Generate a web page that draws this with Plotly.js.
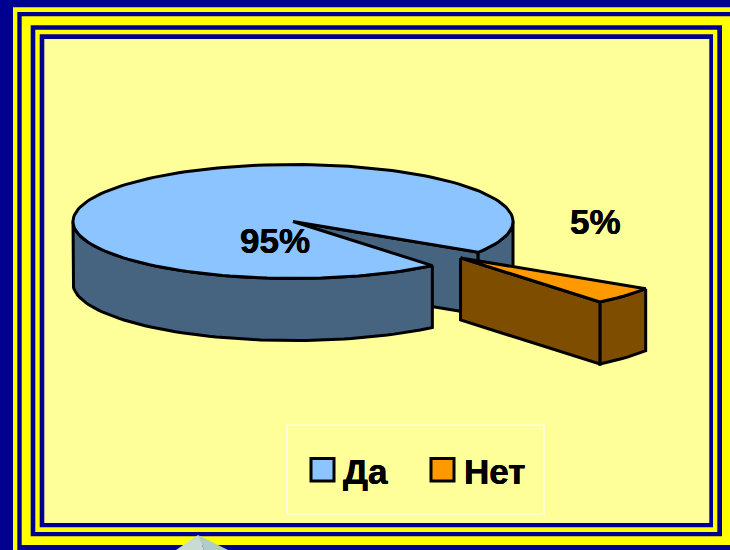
<!DOCTYPE html>
<html>
<head>
<meta charset="utf-8">
<script src="https://cdn.plot.ly/plotly-3.0.1.min.js"></script>
<style>html,body{margin:0;padding:0;background:#000090;overflow:hidden}</style>
</head>
<body>
<div id="chart" style="width:730px;height:550px"></div>
<script>
const categories = ['Да', 'Нет'];
const values = [95, 5];
const topColors = ['#8CC4FF', '#FF9900'];
const sideColors = ['#46637F', '#7F4D00'];

// Projection of the tilted pie onto the page
const cx = 293, cy = 221.5, rx = 220, ry = 57, depth = 62;
const firstAngleDeg = 50.7;   // where "Да" starts, clockwise on screen from the right
const explodeX = 1.02, explodeY = 0.96;

const total = values.reduce((a, b) => a + b, 0);
const sweep = values.map(v => v / total * 360);
const rad = d => d * Math.PI / 180;
const startA = firstAngleDeg, endA = firstAngleDeg + sweep[0];
const netStart = endA, netEnd = endA + sweep[1];

function pt(a, ox, oy, dz) {
  return [ox + rx * Math.cos(rad(a)), oy + ry * Math.sin(rad(a)) + (dz || 0)];
}
function arc(a0, a1, ox, oy, dz) {
  const n = Math.max(2, Math.ceil(Math.abs(a1 - a0) / 2));
  const out = [];
  for (let i = 0; i <= n; i++) out.push(pt(a0 + (a1 - a0) * i / n, ox, oy, dz));
  return out;
}
function poly(points, fill) {
  const closed = points.concat([points[0]]);
  return {
    type: 'scatter', mode: 'lines', x: closed.map(p => p[0]), y: closed.map(p => p[1]),
    fill: 'toself', fillcolor: fill, showlegend: false, hoverinfo: 'skip',
    line: {color: '#000000', width: 3, shape: 'linear'}
  };
}

const traces = [];
// "Да": inner face at the far cut, back-right wall, front wall, then top
traces.push(poly([[cx, cy], pt(endA, cx, cy), pt(endA, cx, cy, depth), [cx, cy + depth]], sideColors[0]));
traces.push(poly(arc(360, endA, cx, cy).concat(arc(endA, 360, cx, cy, depth)), sideColors[0]));
traces.push(poly(arc(startA, 180, cx, cy).concat(arc(180, startA, cx, cy, depth)), sideColors[0]));
traces.push(poly([[cx, cy]].concat(arc(startA, endA, cx, cy)), topColors[0]));

// "Нет": pulled out along its middle angle
const mid = (netStart + netEnd) / 2;
const ox = cx + explodeX * rx * Math.cos(rad(mid));
const oy = cy + explodeY * ry * Math.sin(rad(mid));
traces.push(poly(arc(netStart, netEnd, ox, oy).concat(arc(netEnd, netStart, ox, oy, depth)), sideColors[1]));
traces.push(poly([[ox, oy], pt(netEnd, ox, oy), pt(netEnd, ox, oy, depth), [ox, oy + depth]], sideColors[1]));
traces.push(poly([[ox, oy]].concat(arc(netStart, netEnd, ox, oy)), topColors[1]));

const rect = (x0, y0, x1, y1, fill, line, w) => ({
  type: 'rect', xref: 'x', yref: 'y', x0, y0, x1, y1, layer: 'below',
  fillcolor: fill, line: {color: line || fill, width: w === undefined ? 0 : w}
});
const NAVY = '#000090', YEL = '#FFFF00', PALE = '#FFFF99';
const shapes = [
  rect(0, 0, 730, 550, NAVY),
  rect(13, 7.3, 740, 560, YEL),
  rect(17.3, 12, 740, 560, NAVY),
  rect(21.7, 16.3, 740, 545, YEL),
  rect(30.7, 25.3, 722, 536.3, NAVY),
  rect(35.3, 29.7, 717.3, 532, YEL),
  rect(39.7, 34.3, 713, 527.3, NAVY),
  rect(44.3, 39, 709.3, 523, PALE),
  {type: 'path', xref: 'x', yref: 'y', layer: 'below', path: 'M 176 550 L 198 535 L 204 550 Z', fillcolor: '#C8DCD4', line: {width: 0}},
  {type: 'path', xref: 'x', yref: 'y', layer: 'below', path: 'M 198 535 L 228 550 L 204 550 Z', fillcolor: '#B0CCC8', line: {width: 0}},
  rect(287, 425, 544, 514, 'rgba(0,0,0,0)', '#FFFFFF', 1.2),
  rect(311, 458.5, 334, 481, topColors[0], '#000000', 3),
  rect(431, 458.5, 454, 481, topColors[1], '#000000', 3)
];

const font = {family: '"Liberation Sans", Arial, sans-serif', size: 35, color: '#000000',
  shadow: '0.3px 0 0 #000, -0.3px 0 0 #000'};
const note = (x, y, text, anchor) => ({
  xref: 'x', yref: 'y', x, y, text: '<b>' + text + '</b>', showarrow: false,
  xanchor: anchor || 'center', yanchor: 'middle', font
});
const pct = v => Math.round(v / total * 100) + '%';
const annotations = [
  note(274.5, 240, pct(values[0])),
  note(595, 221, pct(values[1])),
  note(341, 471, categories[0], 'left'),
  note(462, 471, categories[1], 'left')
];

Plotly.newPlot('chart', traces, {
  width: 730, height: 550,
  margin: {l: 0, r: 0, t: 0, b: 0, pad: 0},
  paper_bgcolor: NAVY, plot_bgcolor: 'rgba(0,0,0,0)',
  xaxis: {range: [0, 730], visible: false, fixedrange: true},
  yaxis: {range: [550, 0], visible: false, fixedrange: true},
  showlegend: false, shapes, annotations
}, {displayModeBar: false, staticPlot: true});
</script>
</body>
</html>
